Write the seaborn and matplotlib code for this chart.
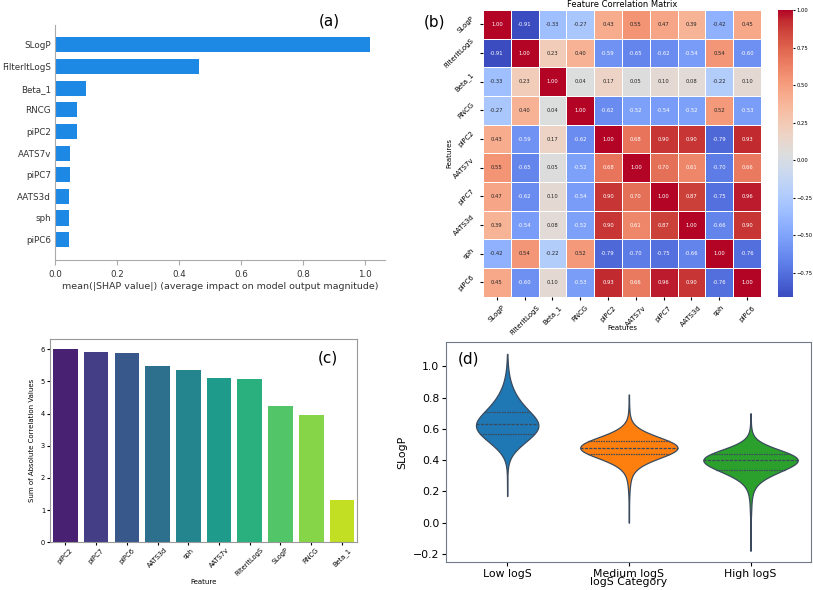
import numpy as np
import pandas as pd
import seaborn as sns
import matplotlib.pyplot as plt

# panel (a): mean |SHAP|
shap_features = ['SLogP', 'FilterItLogS', 'Beta_1', 'RNCG', 'piPC2',
                 'AATS7v', 'piPC7', 'AATS3d', 'sph', 'piPC6']
shap_values = [1.016, 0.463, 0.100, 0.071, 0.069, 0.047, 0.047, 0.044, 0.043, 0.043]

# panel (b): correlation matrix
corr_features = ['SLogP', 'FilterItLogS', 'Beta_1', 'RNCG', 'piPC2',
                 'AATS7v', 'piPC7', 'AATS3d', 'sph', 'piPC6']
corr_values = [
    [1.00, -0.91, -0.33, -0.27, 0.43, 0.55, 0.47, 0.39, -0.42, 0.45],
    [-0.91, 1.00, 0.23, 0.40, -0.59, -0.65, -0.62, -0.54, 0.54, -0.60],
    [-0.33, 0.23, 1.00, 0.04, 0.17, 0.05, 0.10, 0.08, -0.22, 0.10],
    [-0.27, 0.40, 0.04, 1.00, -0.62, -0.52, -0.54, -0.52, 0.52, -0.53],
    [0.43, -0.59, 0.17, -0.62, 1.00, 0.68, 0.90, 0.90, -0.79, 0.93],
    [0.55, -0.65, 0.05, -0.52, 0.68, 1.00, 0.70, 0.61, -0.70, 0.66],
    [0.47, -0.62, 0.10, -0.54, 0.90, 0.70, 1.00, 0.87, -0.75, 0.96],
    [0.39, -0.54, 0.08, -0.52, 0.90, 0.61, 0.87, 1.00, -0.66, 0.90],
    [-0.42, 0.54, -0.22, 0.52, -0.79, -0.70, -0.75, -0.66, 1.00, -0.76],
    [0.45, -0.60, 0.10, -0.53, 0.93, 0.66, 0.96, 0.90, -0.76, 1.00],
]

# panel (c): sum of absolute correlations
sum_features = ['piPC2', 'piPC7', 'piPC6', 'AATS3d', 'sph', 'AATS7v',
                'FilterItLogS', 'SLogP', 'RNCG', 'Beta_1']
sum_values = [6.01, 5.91, 5.89, 5.47, 5.36, 5.12, 5.08, 4.22, 3.94, 1.32]

# panel (d): SLogP values per logS category, as (value, count)
low_levels = [0.17, 0.21, 0.25, 0.29, 0.33, 0.37,
              0.41, 0.43, 0.45, 0.47, 0.49, 0.51, 0.53, 0.55, 0.57, 0.59,
              0.61, 0.63, 0.65, 0.67, 0.69, 0.71, 0.73,
              0.75, 0.77, 0.79, 0.81, 0.83, 0.85, 0.87, 0.89, 0.91, 0.93,
              0.95, 0.97, 0.99, 1.01, 1.03, 1.05, 1.08]
low_counts = [1, 1, 1, 1, 2, 3,
              5, 9, 16, 25, 45, 60, 75, 90, 100, 125,
              135, 135, 125, 100, 90, 80, 70,
              55, 46, 38, 32, 26, 21, 16, 12, 9, 7,
              5, 4, 3, 2, 1, 1, 1]

medium_levels = [0.00, 0.05, 0.10, 0.14, 0.18, 0.22, 0.25, 0.28, 0.31,
                 0.34, 0.36, 0.38, 0.40, 0.42, 0.44, 0.46, 0.48, 0.50,
                 0.52, 0.54, 0.56, 0.58, 0.60, 0.62,
                 0.65, 0.68, 0.72, 0.76, 0.82]
medium_counts = [1, 1, 1, 1, 2, 3, 4, 6, 9,
                 14, 20, 30, 45, 70, 100, 125, 135, 125,
                 100, 70, 45, 28, 16, 9,
                 5, 3, 2, 1, 1]

high_levels = [-0.18, -0.12, -0.07, -0.02, 0.03, 0.07, 0.10, 0.13, 0.16,
               0.19, 0.22, 0.25, 0.28,
               0.30, 0.32, 0.34, 0.36, 0.38, 0.40, 0.42, 0.44, 0.46, 0.48, 0.50,
               0.53, 0.56, 0.60, 0.65, 0.70]
high_counts = [1, 1, 1, 1, 1, 2, 3, 2, 3,
               5, 10, 15, 22,
               35, 50, 65, 80, 100, 120, 115, 95, 55, 30, 16,
               8, 4, 2, 1, 1]

categories = ['Low logS', 'Medium logS', 'High logS']

fig = plt.figure(figsize=(8.13, 5.9), dpi=100)

# ---- (a) ----
ax_a = fig.add_axes([0.068, 0.559, 0.406, 0.399])
sns.barplot(x=shap_values, y=shap_features, color='#1E88E5', orient='h',
            width=0.7, saturation=1, ax=ax_a)
ax_a.set_xlim(0, 1.065)
ax_a.set_ylim(len(shap_features) - 0.05, -0.93)
for s in ['top', 'right']:
    ax_a.spines[s].set_visible(False)
for s in ['left', 'bottom']:
    ax_a.spines[s].set_color('#aaaaaa')
ax_a.tick_params(axis='y', length=0, pad=3, labelsize=6.3, labelcolor='#333333')
ax_a.tick_params(axis='x', labelsize=6.3, labelcolor='#333333', color='#aaaaaa')
ax_a.set_xlabel('mean(|SHAP value|) (average impact on model output magnitude)',
                fontsize=6.8, color='#333333', labelpad=2)
ax_a.set_ylabel('')
fig.text(0.405, 0.965, '(a)', fontsize=11, ha='center', va='center')

# ---- (b) ----
ax_b = fig.add_axes([0.594, 0.497, 0.342, 0.486])
cax = fig.add_axes([0.957, 0.497, 0.018, 0.486])
corr_df = pd.DataFrame(corr_values, index=corr_features, columns=corr_features)
sns.heatmap(corr_df, annot=True, fmt='.2f', cmap='coolwarm', linewidths=0.5,
            linecolor='white', annot_kws={'size': 3.8}, ax=ax_b, cbar_ax=cax)
ax_b.set_title('Feature Correlation Matrix', fontsize=6, pad=2)
ax_b.set_xlabel('Features', fontsize=5)
ax_b.set_ylabel('Features', fontsize=5)
ax_b.xaxis.set_label_coords(0.5, -0.10)
ax_b.yaxis.set_label_coords(-0.11, 0.5)
ax_b.tick_params(labelsize=5, length=2)
plt.setp(ax_b.get_xticklabels(), rotation=45)
plt.setp(ax_b.get_yticklabels(), rotation=45)
cax.tick_params(labelsize=3.8, length=1.5, pad=1)
fig.text(0.535, 0.963, '(b)', fontsize=11, ha='center', va='center')

# ---- (c) ----
ax_c = fig.add_axes([0.0615, 0.081, 0.378, 0.344])
sns.barplot(x=sum_features, y=sum_values, hue=sum_features, palette='viridis',
            saturation=1, legend=False, ax=ax_c)
ax_c.set_xlabel('Feature', fontsize=5, labelpad=1)
ax_c.set_ylabel('Sum of Absolute Correlation Values', fontsize=5)
ax_c.tick_params(labelsize=4.8, length=2, pad=1.5)
plt.setp(ax_c.get_xticklabels(), rotation=45)
for s in ax_c.spines.values():
    s.set_color('#999999')
ax_c.text(0.905, 0.906, '(c)', transform=ax_c.transAxes, fontsize=11,
          ha='center', va='center')

# ---- (d) ----
ax_d = fig.add_axes([0.549, 0.048, 0.449, 0.372])
violin_df = pd.DataFrame({
    'logS Category': np.concatenate([
        np.repeat(categories[0], sum(low_counts)),
        np.repeat(categories[1], sum(medium_counts)),
        np.repeat(categories[2], sum(high_counts))]),
    'SLogP': np.concatenate([
        np.repeat(low_levels, low_counts),
        np.repeat(medium_levels, medium_counts),
        np.repeat(high_levels, high_counts)]),
})
sns.violinplot(data=violin_df, x='logS Category', y='SLogP', hue='logS Category',
               order=categories, hue_order=categories,
               palette=['#1f77b4', '#ff7f0e', '#2ca02c'], inner='quart',
               saturation=1, legend=False, linewidth=0.9, linecolor='#3a4a5c',
               bw_adjust=2.2, cut=0, common_norm=True, ax=ax_d)
ax_d.set_ylim(-0.25, 1.155)
ax_d.tick_params(labelsize=7.8, length=3, pad=2)
ax_d.set_xlabel('logS Category', fontsize=7.8, labelpad=-1)
ax_d.set_ylabel('SLogP', fontsize=7.8)
for s in ax_d.spines.values():
    s.set_color('#707a88')
ax_d.text(0.06, 0.925, '(d)', transform=ax_d.transAxes, fontsize=11,
          ha='center', va='center')

plt.savefig('out.png', dpi=100)
